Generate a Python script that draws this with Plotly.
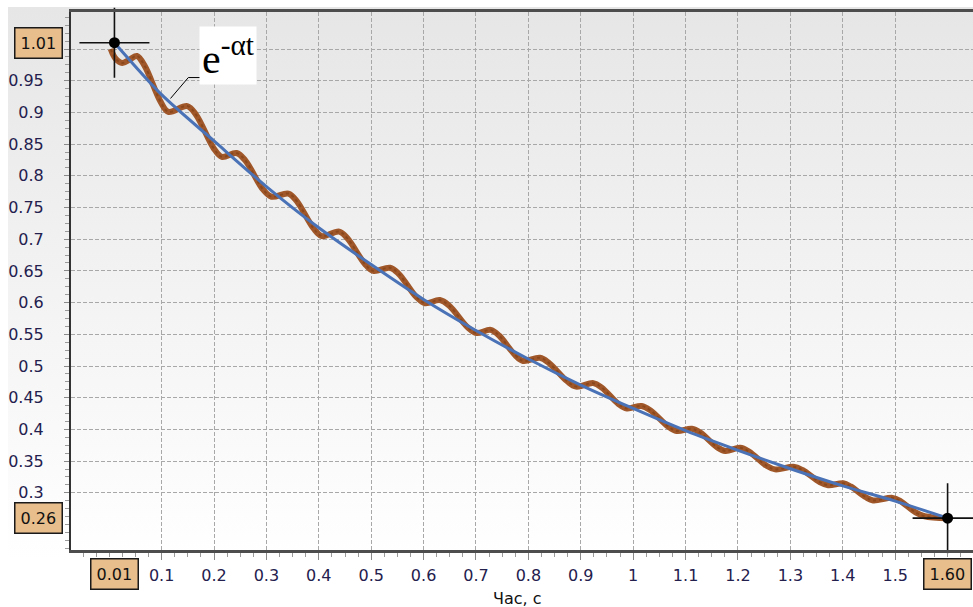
import base64
import plotly.graph_objects as go

# ---------------- data ----------------
t_brown = [0.003, 0.012, 0.025, 0.040, 0.053, 0.068, 0.098,
           0.113, 0.149, 0.166, 0.199,
           0.215, 0.243, 0.260, 0.293,
           0.310, 0.342, 0.358, 0.390,
           0.406, 0.439, 0.455, 0.488,
           0.504, 0.536, 0.553, 0.586,
           0.603, 0.631, 0.649, 0.684,
           0.701, 0.728, 0.744, 0.775,
           0.790, 0.822, 0.839, 0.874,
           0.891, 0.924, 0.940, 0.972,
           0.988, 1.016, 1.033, 1.066,
           1.083, 1.112, 1.128, 1.160,
           1.176, 1.204, 1.221, 1.254,
           1.271, 1.306, 1.323, 1.356,
           1.372, 1.401, 1.415, 1.444,
           1.458, 1.495, 1.510, 1.539,
           1.556, 1.600]
v_brown = [1.000, 0.985, 0.978, 0.984, 0.989, 0.973, 0.917,
           0.901, 0.910, 0.896, 0.844,
           0.830, 0.836, 0.824, 0.779,
           0.767, 0.772, 0.760, 0.717,
           0.705, 0.712, 0.701, 0.661,
           0.650, 0.655, 0.645, 0.609,
           0.599, 0.604, 0.595, 0.561,
           0.552, 0.557, 0.548, 0.517,
           0.508, 0.513, 0.505, 0.476,
           0.4675, 0.473, 0.466, 0.440,
           0.433, 0.437, 0.430, 0.405,
           0.3975, 0.401, 0.395, 0.372,
           0.366, 0.371, 0.365, 0.343,
           0.337, 0.341, 0.336, 0.317,
           0.312, 0.315, 0.310, 0.293,
           0.288, 0.292, 0.287, 0.269,
           0.263, 0.260]

t_blue = [0.01, 0.1, 0.2, 0.3, 0.4, 0.5, 0.6, 0.7, 0.8,
          0.9, 1.0, 1.1, 1.2, 1.3, 1.4, 1.5, 1.6]
v_blue = [1.010, 0.928, 0.855, 0.783, 0.718, 0.660, 0.605, 0.556, 0.511,
          0.470, 0.433, 0.398, 0.367, 0.338, 0.311, 0.287, 0.260]

cursor_t = [0.01, 1.60]
cursor_v = [1.01, 0.26]
cursor_t_labels = ["0.01", "1.60"]
cursor_v_labels = ["1.01", "0.26"]

x_ticks = [0.1, 0.2, 0.3, 0.4, 0.5, 0.6, 0.7, 0.8, 0.9, 1.0,
           1.1, 1.2, 1.3, 1.4, 1.5]
x_tick_text = ["0.1", "0.2", "0.3", "0.4", "0.5", "0.6", "0.7", "0.8", "0.9", "1",
               "1.1", "1.2", "1.3", "1.4", "1.5"]
y_ticks = [0.3, 0.35, 0.4, 0.45, 0.5, 0.55, 0.6, 0.65, 0.7, 0.75,
           0.8, 0.85, 0.9, 0.95, 1.0]
y_tick_text = ["0.3", "0.35", "0.4", "0.45", "0.5", "0.55", "0.6", "0.65", "0.7", "0.75",
               "0.8", "0.85", "0.9", "0.95", " "]

x_title = "Час, с"
formula_text = "e<sup>-αt</sup>"

# ---------------- figure ----------------
W, H = 973, 607
L, R, T, B = 71, 0, 12, 57
pw, ph = W - L - R, H - T - B

def px_x(p):
    return (p - L) / pw

def px_y(p):
    return (H - B - p) / ph

label_font = dict(family="DejaVu Sans", size=16, color="#24204e")

svg = ("<svg xmlns='http://www.w3.org/2000/svg' width='100' height='100' "
       "viewBox='0 0 100 100' preserveAspectRatio='none'>"
       "<defs><linearGradient id='g' x1='0' y1='0' x2='0' y2='1'>"
       "<stop offset='0' stop-color='#e6e6e6'/>"
       "<stop offset='0.92' stop-color='#ffffff'/>"
       "<stop offset='1' stop-color='#ffffff'/>"
       "</linearGradient></defs>"
       "<rect width='100' height='100' fill='url(#g)'/></svg>")
svg_uri = "data:image/svg+xml;base64," + base64.b64encode(svg.encode()).decode()

fig = go.Figure()

fig.add_trace(go.Scatter(
    x=t_brown, y=v_brown, mode="lines",
    line=dict(color="#a0582a", width=6, shape="spline", smoothing=1.0),
    hoverinfo="skip", showlegend=False))
fig.add_trace(go.Scatter(
    x=t_brown, y=v_brown, mode="lines",
    line=dict(color="#7d3d12", width=2, shape="spline", smoothing=1.0, dash="dot"),
    hoverinfo="skip", showlegend=False, opacity=0.6))
fig.add_trace(go.Scatter(
    x=t_blue, y=v_blue, mode="lines",
    line=dict(color="#4a72b6", width=3, shape="spline", smoothing=0.8),
    hoverinfo="skip", showlegend=False))
fig.add_trace(go.Scatter(
    x=cursor_t, y=cursor_v, mode="markers",
    marker=dict(symbol="cross-thin", size=50, line=dict(color="#111111", width=1.6)),
    hoverinfo="skip", showlegend=False, cliponaxis=False))
fig.add_trace(go.Scatter(
    x=cursor_t, y=cursor_v, mode="markers",
    marker=dict(symbol="circle", size=11, color="#000000"),
    hoverinfo="skip", showlegend=False, cliponaxis=False))

annotations = []
box = dict(bgcolor="#e8be8c", bordercolor="#1a1a1a", borderwidth=1.5, borderpad=5,
           showarrow=False, font=dict(family="DejaVu Sans", size=16, color="#111111"))
for tv, txt in zip(cursor_t, cursor_t_labels):
    annotations.append(dict(x=tv, xref="x", y=px_y(574), yref="paper",
                            xanchor="center", yanchor="middle", text=txt, **box))
for vv, txt in zip(cursor_v, cursor_v_labels):
    annotations.append(dict(x=px_x(63), xref="paper", y=vv, yref="y",
                            xanchor="right", yanchor="middle", text=txt, **box))
annotations.append(dict(x=px_x(517), xref="paper", y=px_y(598), yref="paper",
                        xanchor="center", yanchor="middle", text=x_title,
                        showarrow=False, font=dict(family="DejaVu Sans", size=16, color="#111111")))
annotations.append(dict(x=0.226, xref="x", y=0.990, yref="y",
                        xanchor="center", yanchor="middle", text=formula_text,
                        showarrow=False, bgcolor="#ffffff", borderpad=2,
                        font=dict(family="Liberation Serif", size=42, color="#000000")))

shapes = [dict(type="path", xref="x", yref="y",
               path="M 0.117,0.922 L 0.151,0.955 L 0.208,0.955",
               line=dict(color="#000000", width=1))]

fig.update_layout(
    width=W, height=H,
    margin=dict(l=L, r=R, t=T, b=B, pad=0),
    paper_bgcolor="#ffffff",
    plot_bgcolor="rgba(0,0,0,0)",
    images=[dict(source=svg_uri, xref="paper", yref="paper",
                 x=px_x(8), y=px_y(7), sizex=px_x(973) - px_x(8),
                 sizey=px_y(7) - px_y(607), sizing="stretch",
                 xanchor="left", yanchor="top", layer="below")],
    annotations=annotations,
    shapes=shapes,
    xaxis=dict(range=[-0.0729, 1.6485], tickmode="array", tickvals=x_ticks,
               ticktext=x_tick_text, showgrid=True, gridcolor="#a8a8a8",
               griddash="4px,2px", gridwidth=1, zeroline=False,
               showline=True, linecolor="#4d4d4d", linewidth=2.5, mirror=True,
               ticks="outside", ticklen=7, tickcolor="#8a8a8a", tickwidth=1,
               ticklabelstandoff=2, tickfont=label_font,
               minor=dict(tick0=0, dtick=0.025, ticks="outside", ticklen=4,
                          tickcolor="#9a9a9a", showgrid=False)),
    yaxis=dict(range=[0.2098, 1.0584], tickmode="array", tickvals=y_ticks,
               ticktext=y_tick_text, showgrid=True, gridcolor="#a8a8a8",
               griddash="4px,2px", gridwidth=1, zeroline=False,
               showline=True, linecolor="#333333", linewidth=2,
               ticks="outside", ticklen=5, tickcolor="#8a8a8a", tickwidth=1,
               ticklabelstandoff=17, tickfont=label_font,
               minor=dict(tick0=0, dtick=0.0125, ticks="outside", ticklen=4,
                          tickcolor="#9a9a9a", showgrid=False)),
)

fig.write_html("out.html")
